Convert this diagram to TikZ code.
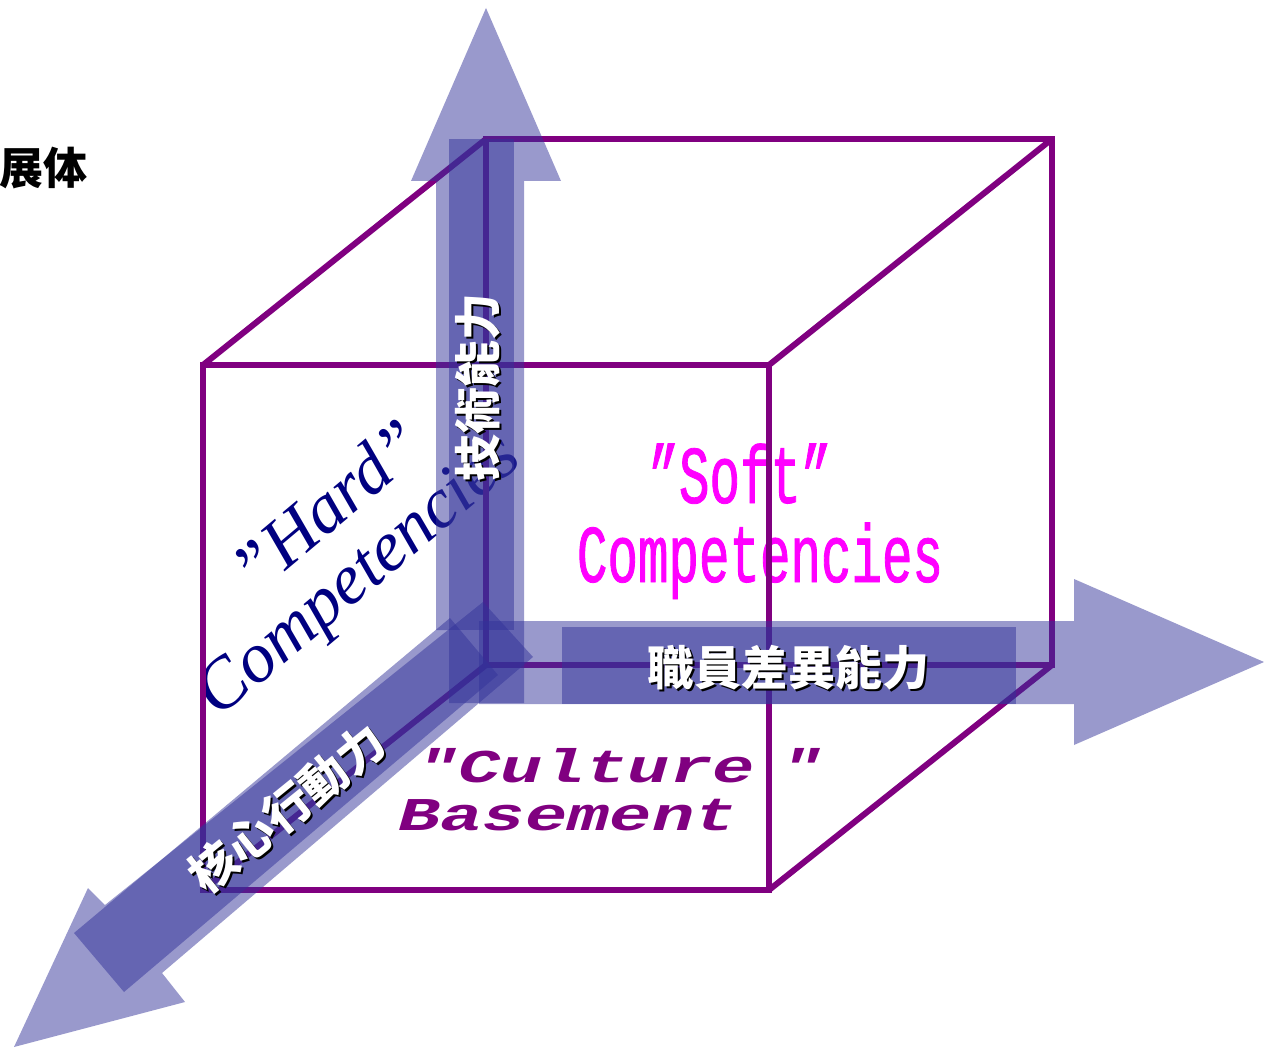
\documentclass[tikz,border=0pt]{standalone}
\usepackage{fontspec}
\newfontfamily\cjk{Noto Sans CJK TC}
\newfontfamily\softfont[FakeStretch=0.62,FakeBold=1]{Liberation Mono}
\newfontfamily\culturefont[FakeStretch=1.5]{Liberation Mono}
\newfontfamily\hardfont{Liberation Serif}
\definecolor{arrowblue}{HTML}{333399}
\definecolor{cubeline}{HTML}{800080}
\definecolor{softpink}{HTML}{FF00FF}
\definecolor{hardnavy}{HTML}{000080}
\tikzset{
  axisarrow/.style={fill=arrowblue,fill opacity=0.5},
  cubeedge/.style={draw=cubeline,line width=6pt},
  cjkshadow/.style={text=black,font=\cjk\bfseries\fontsize{47}{47}\selectfont,inner sep=0pt},
  cjklabel/.style={text=white,font=\cjk\bfseries\fontsize{47}{47}\selectfont,inner sep=0pt},
}

\begin{document}
\begin{tikzpicture}[x=1pt,y=-1pt]
  \useasboundingbox (0,0) rectangle (1264,1048);
  % title fragment
  \node[anchor=east,inner sep=0pt,font=\cjk\bfseries\fontsize{44}{44}\selectfont] (title) at (88,168) {展体};
  % texts on the faces
  \node[rotate=40,align=center,text=hardnavy,font=\hardfont\itshape\fontsize{71}{70}\selectfont] (hard) at (338,551) {\hspace*{40pt}”Hard”\\Competencies};
  \node[anchor=base,text=softpink,font=\softfont\fontsize{82}{82}\selectfont,inner sep=0pt] (soft) at (740,503) {”Soft”};
  \node[anchor=base,text=softpink,font=\softfont\fontsize{82}{82}\selectfont,inner sep=0pt] (softcomp) at (760,582) {Competencies};
  \node[anchor=base west,text=cubeline,font=\culturefont\bfseries\itshape\fontsize{47}{47}\selectfont,inner sep=0pt] (culture) at (416,782) {"Culture \kern-16pt"};
  \node[anchor=base west,text=cubeline,font=\culturefont\bfseries\itshape\fontsize{47}{47}\selectfont,inner sep=0pt] (basement) at (398,830) {Basement};
  % cube
  \draw[cubeedge] (203,365) rectangle (769,890);
  \draw[cubeedge] (486,139) rectangle (1052,665);
  \draw[cubeedge] (203,365) -- (486,139);
  \draw[cubeedge] (769,365) -- (1052,139);
  \draw[cubeedge] (769,890) -- (1052,665);
  \draw[cubeedge] (203,890) -- (486,665);
  % vertical axis
  \fill[axisarrow] (486,8) -- (561,181) -- (524,181) -- (524,703) -- (449,703)
    -- (449,630) -- (436,630) -- (436,181) -- (411,181) -- cycle;
  \fill[axisarrow] (449,139) rectangle (514,630);
  % horizontal axis
  \fill[axisarrow] (479,621) -- (1074,621) -- (1074,579) -- (1264,662)
    -- (1074,745) -- (1074,704) -- (479,704) -- cycle;
  \fill[axisarrow] (562,627) rectangle (1016,704);
  % diagonal axis
  \fill[axisarrow] (483,602) -- (533,657) -- (162,973) -- (185,1002)
    -- (14,1047) -- (88,888) -- (105,905) -- cycle;
  \fill[axisarrow] (450,618) -- (498,675) -- (124,992) -- (74,933) -- cycle;
  % axis labels
  \node[cjkshadow,rotate=90] (techshadow) at (480,389) {技術能力};
  \node[cjklabel,rotate=90] (tech) at (478,387) {技術能力};
  \node[cjkshadow] (staffshadow) at (790,670) {職員差異能力};
  \node[cjklabel] (staff) at (788,668) {職員差異能力};
  \node[cjkshadow,rotate=39] (coreshadow) at (289,810) {核心行動力};
  \node[cjklabel,rotate=39] (core) at (287,808) {核心行動力};
\end{tikzpicture}
\end{document}
